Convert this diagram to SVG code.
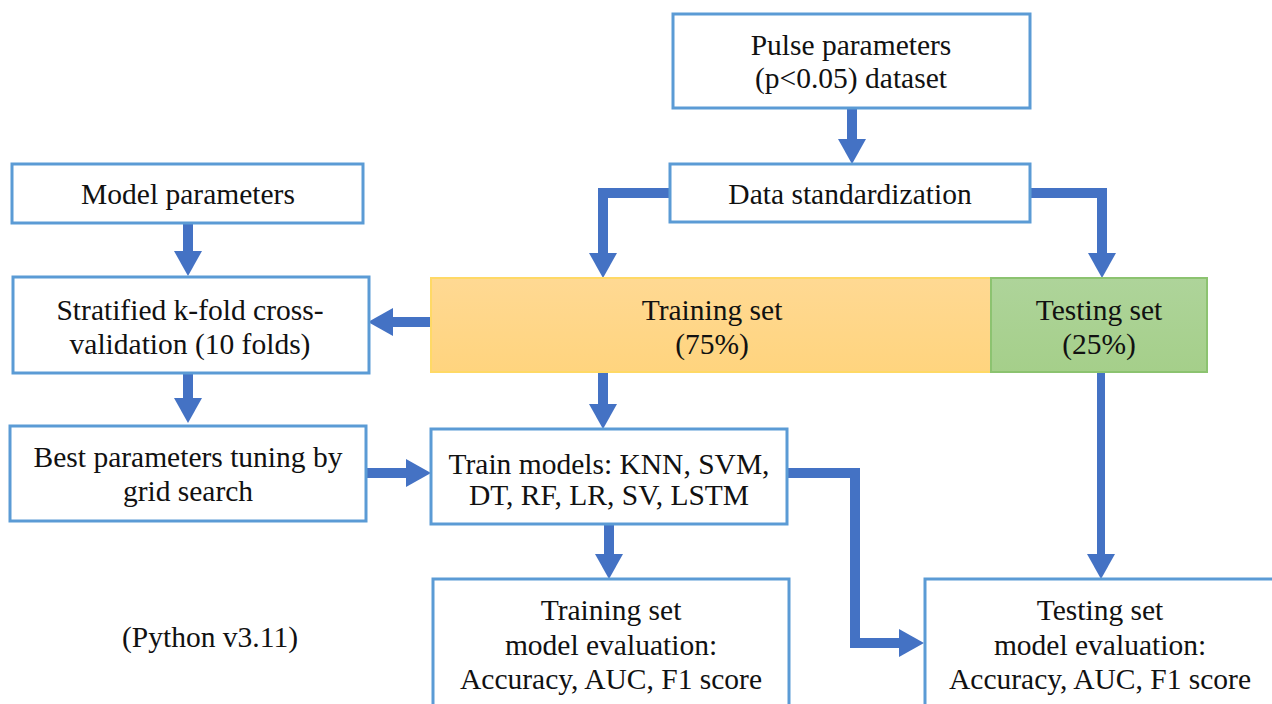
<svg xmlns="http://www.w3.org/2000/svg" width="1272" height="704" viewBox="0 0 1272 704">
<style>
.box{fill:#ffffff;stroke:#5B9BD5;stroke-width:3}
.t{font-family:'Liberation Serif','Times New Roman',Times,serif;font-size:29.5px;fill:#111;text-anchor:middle}
.c{fill:none;stroke:#4472C4;stroke-width:10;stroke-linejoin:miter}
</style>
<defs>
<marker id="ah" markerUnits="userSpaceOnUse" markerWidth="26" markerHeight="28" refX="0" refY="14" orient="auto">
<path d="M0,0 L25,14 L0,28 Z" fill="#4472C4"/>
</marker>
<linearGradient id="gy" x1="0" y1="0" x2="0" y2="1">
<stop offset="0" stop-color="#FFD993"/><stop offset="1" stop-color="#FFD47E"/>
</linearGradient>
<linearGradient id="gg" x1="0" y1="0" x2="0" y2="1">
<stop offset="0" stop-color="#AED49A"/><stop offset="1" stop-color="#A5CF8A"/>
</linearGradient>
</defs>
<rect width="1272" height="704" fill="#ffffff"/>
<g id="connectors">
<path class="c" d="M852,108 V139" marker-end="url(#ah)"/>
<path class="c" d="M670,193 H603 V253" marker-end="url(#ah)"/>
<path class="c" d="M1030,193 H1102 V253" marker-end="url(#ah)"/>
<path class="c" d="M188,223 V251" marker-end="url(#ah)"/>
<path class="c" d="M432,322 H393" marker-end="url(#ah)"/>
<path class="c" d="M188,373 V398" marker-end="url(#ah)"/>
<path class="c" d="M603,372 V404" marker-end="url(#ah)"/>
<path class="c" d="M366,473 H406" marker-end="url(#ah)"/>
<path class="c" d="M609,524 V554" marker-end="url(#ah)"/>
<path class="c" d="M787,473 H855 V643 H899" marker-end="url(#ah)"/>
<path class="c" style="stroke-width:8" d="M1101,372 V554" marker-end="url(#ah)"/>
</g>
<g font-family="'Liberation Serif','Times New Roman',Times,serif">
<g id="pulse">
<rect class="box" x="673" y="14" width="357" height="94"/>
<text class="t" x="851" y="55">Pulse parameters</text>
<text class="t" x="851" y="88">(p&lt;0.05) dataset</text>
</g>
<g id="standardization">
<rect class="box" x="670" y="164" width="360" height="58"/>
<text class="t" x="850" y="204">Data standardization</text>
</g>
<g id="model-params">
<rect class="box" x="12" y="164" width="351" height="59"/>
<text class="t" x="188" y="204">Model parameters</text>
</g>
<g id="stratified">
<rect class="box" x="13" y="277" width="356" height="96"/>
<text class="t" x="190" y="320">Stratified k-fold cross-</text>
<text class="t" x="190" y="354">validation (10 folds)</text>
</g>
<g id="training-set">
<rect x="431" y="278" width="560" height="94" fill="url(#gy)" stroke="#FFD966" stroke-width="2"/>
<text class="t" x="712" y="320">Training set</text>
<text class="t" x="712" y="354">(75%)</text>
</g>
<g id="testing-set">
<rect x="991" y="278" width="216" height="94" fill="url(#gg)" stroke="#8CC370" stroke-width="2"/>
<text class="t" x="1099" y="320">Testing set</text>
<text class="t" x="1099" y="354">(25%)</text>
</g>
<g id="best-params">
<rect class="box" x="10" y="426" width="356" height="95"/>
<text class="t" x="188" y="467">Best parameters tuning by</text>
<text class="t" x="188" y="501">grid search</text>
</g>
<g id="train-models">
<rect class="box" x="431" y="429" width="356" height="95"/>
<text class="t" x="609" y="474">Train models: KNN, SVM,</text>
<text class="t" x="609" y="505">DT, RF, LR, SV, LSTM</text>
</g>
<g id="training-eval">
<rect class="box" x="433" y="579" width="356" height="140"/>
<text class="t" x="611" y="620">Training set</text>
<text class="t" x="611" y="655">model evaluation:</text>
<text class="t" x="611" y="689">Accuracy, AUC, F1 score</text>
</g>
<g id="testing-eval">
<rect class="box" x="925" y="579" width="360" height="140"/>
<text class="t" x="1100" y="620">Testing set</text>
<text class="t" x="1100" y="655">model evaluation:</text>
<text class="t" x="1100" y="689">Accuracy, AUC, F1 score</text>
</g>
<g id="python-note">
<text class="t" x="210" y="647">(Python v3.11)</text>
</g>
</g>
</svg>
